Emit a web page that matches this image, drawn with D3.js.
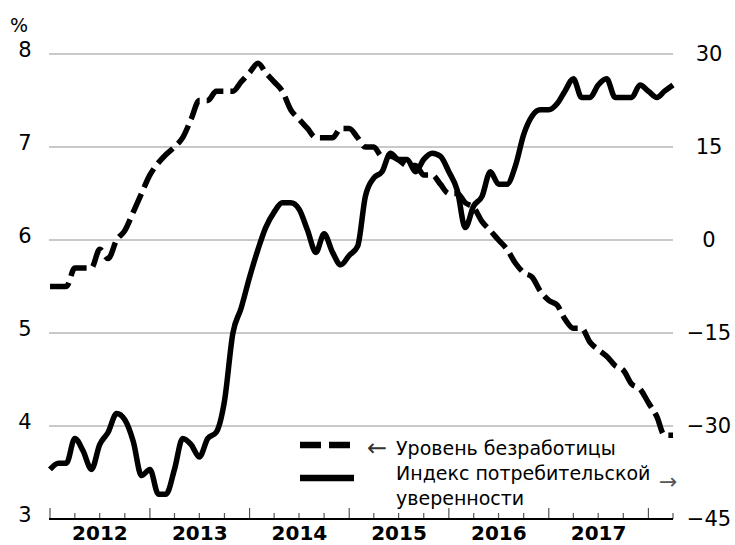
<!DOCTYPE html>
<html>
<head>
<meta charset="utf-8">
<script src="https://cdn.jsdelivr.net/npm/d3@7"></script>
<style>
  body { margin: 0; background: #fff; }
  svg { display: block; }
  text { font-family: "DejaVu Sans", sans-serif; fill: #000; }
</style>
</head>
<body>
<svg id="chart" width="735" height="545"></svg>
<script>
// monthly, Jan 2012 .. Apr 2018
const months = d3.timeMonth.range(new Date(2012, 0, 1), new Date(2018, 4, 1));

// unemployment rate, % (left axis)
const unemployment = [
  5.5, 5.5, 5.5, 5.7, 5.7, 5.7, 5.9, 5.8, 6.0, 6.1, 6.3, 6.5,
  6.7, 6.83, 6.92, 7.0, 7.1, 7.3, 7.5, 7.5, 7.6, 7.6, 7.6, 7.7,
  7.8, 7.9, 7.8, 7.7, 7.6, 7.4, 7.3, 7.2, 7.1, 7.1, 7.1, 7.2,
  7.2, 7.1, 7.0, 7.0, 6.9, 6.9, 6.86, 6.8, 6.8, 6.7, 6.7, 6.6,
  6.5, 6.5, 6.4, 6.35, 6.2, 6.1, 6.0, 5.9, 5.75, 5.65, 5.6, 5.45,
  5.35, 5.3, 5.15, 5.05, 5.05, 4.9, 4.82, 4.75, 4.65, 4.6, 4.45, 4.4,
  4.25, 4.1, 3.9, 3.9
];

// consumer confidence index (right axis)
const confidence = [
  -37, -36, -36, -32, -34, -37, -33, -31, -28, -29, -32.5, -38,
  -37, -41, -41, -37, -32, -33, -35, -32, -31, -26, -15, -11,
  -6, -1.5, 2, 4.5, 6, 6, 5, 1.6, -2, 1, -2, -4,
  -2.5, -1, 7, 10, 11, 14, 13, 13, 11, 13, 14, 13.5,
  11, 8, 2, 5.5, 7, 11, 9, 9, 12, 17, 20, 21,
  21, 22, 24, 26, 23, 23, 25, 26, 23, 23, 23, 25,
  24, 23, 24, 25
];

const leftTicks = [3, 4, 5, 6, 7, 8];
const rightTicks = [-45, -30, -15, 0, 15, 30];
const years = [2012, 2013, 2014, 2015, 2016, 2017];

const legendItems = [
  { dash: '21,8', lines: ['Уровень безработицы'] },
  { dash: null, lines: ['Индекс потребительской', 'уверенности'] }
];

const svg = d3.select('#chart');
const plotL = 49, plotR = 673, plotT = 54, plotB = 519;

const x = d3.scaleTime().domain([new Date(2012, 0, 1), new Date(2018, 3, 1)]).range([plotL + 1, plotR]);
const yL = d3.scaleLinear().domain([3, 8]).range([plotB, plotT]);
const yR = d3.scaleLinear().domain([-45, 30]).range([plotB, plotT]);

// gridlines
svg.append('g').selectAll('line').data(leftTicks.slice(1)).join('line')
  .attr('x1', plotL).attr('x2', plotR)
  .attr('y1', (d) => yL(d)).attr('y2', (d) => yL(d))
  .attr('stroke', '#c9c9c9').attr('stroke-width', 2);

// left labels
svg.append('g').selectAll('text').data(leftTicks).join('text')
  .attr('x', 25).attr('y', (d) => yL(d) + 3)
  .attr('text-anchor', 'middle').style('font-size', '21px')
  .text((d) => d);
svg.append('text').attr('x', 19).attr('y', 32).attr('text-anchor', 'middle')
  .style('font-size', '19px').text('%');

// right labels
svg.append('g').selectAll('text').data(rightTicks).join('text')
  .attr('x', 709).attr('y', (d) => yR(d) + 7)
  .attr('text-anchor', 'middle').style('font-size', '21px')
  .text((d) => (d < 0 ? '\u2212' + Math.abs(d) : d));

// x axis: quarter ticks pointing up, longer at year boundaries
const quarters = d3.timeMonth.every(3).range(new Date(2012, 0, 1), new Date(2018, 4, 1));
svg.append('g').selectAll('line').data(quarters).join('line')
  .attr('x1', (d) => x(d)).attr('x2', (d) => x(d))
  .attr('y1', plotB).attr('y2', (d) => (d.getMonth() === 0 ? plotB - 11 : plotB - 6))
  .attr('stroke', '#555').attr('stroke-width', 1.2);
svg.append('line').attr('x1', plotL).attr('x2', plotR).attr('y1', plotB).attr('y2', plotB)
  .attr('stroke', '#000').attr('stroke-width', 2);

svg.append('g').selectAll('text').data(years).join('text')
  .attr('x', (d) => (x(new Date(d, 0, 1)) + x(new Date(d + 1, 0, 1))) / 2)
  .attr('y', 540).attr('text-anchor', 'middle')
  .style('font-size', '20px').style('font-weight', 'bold')
  .text((d) => d);

// lines
const lineL = d3.line().x((d, i) => x(months[i])).y((d) => yL(d)).curve(d3.curveMonotoneX);
const lineR = d3.line().x((d, i) => x(months[i])).y((d) => yR(d)).curve(d3.curveMonotoneX);

svg.append('path').datum(confidence).attr('d', lineR)
  .attr('fill', 'none').attr('stroke', '#000').attr('stroke-width', 5.5)
  .attr('stroke-linejoin', 'round');
svg.append('path').datum(unemployment).attr('d', lineL)
  .attr('fill', 'none').attr('stroke', '#000').attr('stroke-width', 5.5)
  .attr('stroke-dasharray', '21,7').attr('stroke-linejoin', 'round');

// legend
const leg = svg.append('g');
legendItems.forEach((item, i) => {
  const ly = 445 + i * 33;
  leg.append('line').attr('x1', 300).attr('x2', 354).attr('y1', ly).attr('y2', ly)
    .attr('stroke', '#000').attr('stroke-width', 6.5)
    .attr('stroke-dasharray', item.dash);
  item.lines.forEach((t, j) => {
    leg.append('text').attr('x', 396).attr('y', ly + 10 + j * 25 - (i === 1 ? 8 : 0))
      .style('font-size', '19px').text(t);
  });
});
leg.append('text').attr('x', 367).attr('y', 456).style('font-size', '24px').style('fill', '#333').text('\u2190');
leg.append('text').attr('x', 659).attr('y', 489).style('font-size', '22px').style('fill', '#555').text('\u2192');
</script>
</body>
</html>
